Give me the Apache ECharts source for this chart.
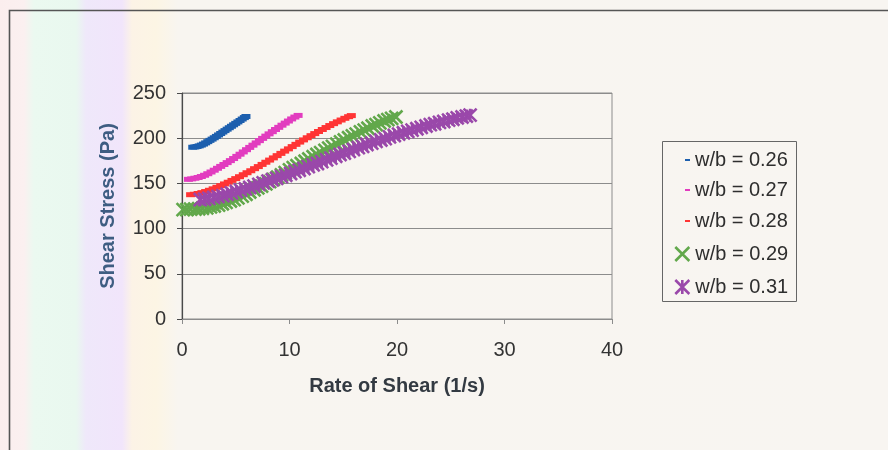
<!DOCTYPE html>
<html>
<head>
<meta charset="utf-8">
<script src="https://cdn.jsdelivr.net/npm/echarts@6/dist/echarts.min.js"></script>
<style>
  html, body { margin: 0; padding: 0; }
  body {
    width: 888px; height: 450px; overflow: hidden;
    background: linear-gradient(to right,
      #fbeeee 0px, #fbf0f0 24px, #ebf9f0 34px, #e9f8ef 76px,
      #efe8fa 86px, #f1e5fb 122px, #fcf3e6 132px, #fcf5e4 156px,
      #f8f5f0 178px, #f8f5f1 100%);
  }
  #chart { width: 888px; height: 450px; }
</style>
</head>
<body>
<div id="chart"></div>
<script>
// Rheometer flow curves: shear stress against rate of shear, one series per w/b ratio
const seriesNames = ['w/b = 0.26', 'w/b = 0.27', 'w/b = 0.28', 'w/b = 0.29', 'w/b = 0.31'];

const wb026 = [
  [1.0, 190], [1.2, 190.3], [1.4, 190.8], [1.6, 191.5], [1.8, 192.4], [2.0, 193.5],
  [2.2, 194.8], [2.4, 196.2], [2.6, 197.6], [2.8, 199], [3.0, 200.5], [3.2, 202],
  [3.4, 203.6], [3.6, 205.2], [3.8, 206.8], [4.0, 208.4], [4.2, 210], [4.4, 211.6],
  [4.6, 213.2], [4.8, 214.8], [5.0, 216.4], [5.2, 218], [5.4, 219.6], [5.6, 221.2],
  [5.8, 222.8], [5.95, 224]
];

const wb027 = [
  [0.6, 154.5], [0.9, 155], [1.2, 155.7], [1.5, 156.5], [1.8, 157.6], [2.1, 159],
  [2.4, 160.7], [2.7, 162.6], [3.0, 164.6], [3.3, 166.7], [3.6, 168.8], [3.9, 170.9],
  [4.2, 173], [4.5, 175.2], [4.8, 177.5], [5.1, 179.9], [5.4, 182.3], [5.7, 184.8],
  [6.0, 187.3], [6.3, 189.8], [6.6, 192.3], [6.9, 194.8], [7.2, 197.3], [7.5, 199.8],
  [7.8, 202.3], [8.1, 204.8], [8.4, 207.2], [8.7, 209.6], [9.0, 212], [9.3, 214.4],
  [9.6, 216.7], [9.9, 219], [10.2, 221.3], [10.5, 223.4], [10.8, 225.2]
];

const wb028 = [
  [0.8, 137.5], [1.15, 138], [1.5, 138.8], [1.85, 139.8], [2.2, 141], [2.55, 142.4],
  [2.9, 144], [3.25, 145.7], [3.6, 147.5], [3.95, 149.4], [4.3, 151.3], [4.65, 153.3],
  [5.0, 155.3], [5.35, 157.4], [5.7, 159.6], [6.05, 161.8], [6.4, 164], [6.75, 166.3],
  [7.1, 168.6], [7.45, 171], [7.8, 173.4], [8.15, 175.8], [8.5, 178.2], [8.85, 180.7],
  [9.2, 183.2], [9.55, 185.7], [9.9, 188.2], [10.25, 190.7], [10.6, 193.2], [10.95, 195.7],
  [11.3, 198.1], [11.65, 200.5], [12.0, 202.8], [12.35, 205.1], [12.7, 207.4], [13.05, 209.6],
  [13.4, 211.8], [13.75, 214], [14.1, 216.1], [14.45, 218.1], [14.8, 220.1], [15.15, 222],
  [15.5, 223.8], [15.75, 225]
];

const wb029 = [
  [0.1, 121], [0.45, 121], [0.8, 121.5], [1.2, 121.5], [1.55, 122], [1.9, 122.5],
  [2.3, 123], [2.65, 124], [3.0, 125], [3.4, 126], [3.75, 127.5], [4.1, 129],
  [4.5, 130.5], [4.85, 132], [5.2, 134], [5.6, 136], [5.95, 138], [6.3, 140.5],
  [6.7, 143], [7.05, 145], [7.4, 147], [7.8, 149.5], [8.15, 152], [8.5, 154.5],
  [8.9, 157], [9.25, 159.5], [9.6, 162], [10.0, 165], [10.35, 167.5], [10.7, 169.5],
  [11.1, 172], [11.45, 174.5], [11.8, 177], [12.2, 179.5], [12.55, 182], [12.9, 184],
  [13.3, 186.5], [13.65, 189], [14.0, 191], [14.4, 193.5], [14.75, 196], [15.1, 198],
  [15.5, 200.5], [15.85, 202.5], [16.2, 204.5], [16.6, 207], [16.95, 209], [17.3, 211],
  [17.7, 213.5], [18.05, 215], [18.4, 217], [18.8, 219], [19.15, 220.5], [19.5, 222],
  [19.9, 223.5]
];

const wb031 = [
  [1.7, 132], [2.1, 132.5], [2.5, 133.5], [2.95, 134.5], [3.35, 135.5], [3.8, 136.5],
  [4.2, 138], [4.6, 139.5], [5.05, 141], [5.45, 142.5], [5.9, 144], [6.3, 145.5],
  [6.7, 147], [7.15, 149], [7.55, 150.5], [8.0, 152.5], [8.4, 154], [8.8, 155.5],
  [9.25, 157.5], [9.65, 159], [10.1, 161], [10.5, 163], [10.9, 164.5], [11.35, 166.5],
  [11.75, 168.5], [12.2, 170.5], [12.6, 172], [13.0, 174], [13.45, 176], [13.85, 178],
  [14.3, 180], [14.7, 182], [15.1, 183.5], [15.55, 185.5], [15.95, 187.5], [16.4, 189.5],
  [16.8, 191], [17.2, 193], [17.65, 194.5], [18.05, 196.5], [18.5, 198], [18.9, 199.5],
  [19.3, 201.5], [19.75, 203], [20.15, 204.5], [20.6, 206], [21.0, 207.5], [21.4, 209],
  [21.85, 210.5], [22.25, 212], [22.7, 213.5], [23.1, 215], [23.5, 216], [23.95, 217.5],
  [24.35, 218.5], [24.8, 220], [25.2, 221], [25.6, 222.5], [26.05, 223.5], [26.45, 224.5],
  [26.8, 225.5]
];

const seriesData = [wb026, wb027, wb028, wb029, wb031];
const seriesColors = ['#1d5fae', '#e23cbf', '#ff3434', '#62a84b', '#9a48aa'];

const xTicks = { min: 0, max: 40, interval: 10 };
const yTicks = { min: 0, max: 250, interval: 50 };

const FONT = '"Liberation Sans", Arial, sans-serif';
const CROSS = 'path://M0,0L10,10M10,0L0,10';
const STAR = 'path://M0,0L10,10M10,0L0,10M5,0L5,10';

// dash markers for the first three, crosses and asterisks for the last two
const markerShapes = ['rect', 'rect', 'rect', CROSS, STAR];
const markerSizes = [[9, 5], [9, 5], [9, 5], 13, 13];

const series = seriesNames.map((name, i) => ({
  name,
  type: 'scatter',
  data: seriesData[i],
  symbol: markerShapes[i],
  symbolSize: markerSizes[i],
  clip: false,
  itemStyle: {
    color: seriesColors[i],
    borderColor: seriesColors[i],
    borderWidth: i >= 3 ? 2.6 : 0,
    opacity: 1
  },
  emphasis: { disabled: true },
  z: 2 + i
}));

// one legend block per entry so each icon can have its own size
const legendRowY = [144, 174, 205, 238, 271];
const legends = seriesNames.map((name, i) => {
  const dash = i < 3;
  const w = dash ? 5 : 16;
  const h = dash ? 2 : 14;
  return {
    left: 690 - w - 5,
    top: legendRowY[i],
    orient: 'horizontal',
    itemWidth: w,
    itemHeight: h,
    selectedMode: false,
    data: [{ name, icon: dash ? 'rect' : (i === 3 ? CROSS : STAR) }],
    itemStyle: {
      color: seriesColors[i],
      borderColor: seriesColors[i],
      borderWidth: dash ? 0 : 2.6
    },
    textStyle: { fontFamily: FONT, fontSize: 20, color: '#2e2e2e', lineHeight: 22, padding: 0 }
  };
});

const chart = echarts.init(document.getElementById('chart'), null, { renderer: 'canvas' });
chart.setOption({
  animation: false,
  backgroundColor: 'transparent',
  grid: {
    left: 182, right: 276, top: 93, bottom: 131,
    show: true, borderColor: '#8c8c8c', borderWidth: 1, backgroundColor: 'transparent'
  },
  xAxis: {
    type: 'value',
    min: xTicks.min, max: xTicks.max, interval: xTicks.interval,
    name: 'Rate of Shear (1/s)',
    nameLocation: 'middle',
    nameGap: 57,
    nameTextStyle: { fontFamily: FONT, fontSize: 20, fontWeight: 'bold', color: '#333a42' },
    axisLine: { show: true, onZero: false, lineStyle: { color: '#8c8c8c', width: 1 } },
    axisTick: { show: true, inside: false, length: 5, lineStyle: { color: '#8c8c8c' } },
    axisLabel: { fontFamily: FONT, fontSize: 20, color: '#333', margin: 21 },
    splitLine: { show: false }
  },
  yAxis: {
    type: 'value',
    min: yTicks.min, max: yTicks.max, interval: yTicks.interval,
    name: 'Shear Stress (Pa)',
    nameLocation: 'middle',
    nameGap: 64,
    nameTextStyle: { fontFamily: FONT, fontSize: 20, fontWeight: 'bold', color: '#3e5d82' },
    axisLine: { show: true, lineStyle: { color: '#4a4a4a', width: 1.2 } },
    axisTick: { show: true, inside: false, length: 5, lineStyle: { color: '#4a4a4a' } },
    axisLabel: { fontFamily: FONT, fontSize: 20, color: '#333', margin: 16 },
    splitLine: { show: true, lineStyle: { color: '#8c8c8c', width: 1.2 } }
  },
  legend: legends,
  graphic: [
    {
      // outer chart frame
      type: 'rect',
      shape: { x: 9.5, y: 10.5, width: 1000, height: 1000 },
      style: { fill: 'none', stroke: '#555', lineWidth: 1.6 },
      silent: true, z: 0
    },
    {
      // legend frame
      type: 'rect',
      shape: { x: 662.5, y: 141.5, width: 134, height: 160 },
      style: { fill: 'none', stroke: '#666', lineWidth: 1 },
      silent: true, z: 0
    }
  ],
  series
});
</script>
</body>
</html>
